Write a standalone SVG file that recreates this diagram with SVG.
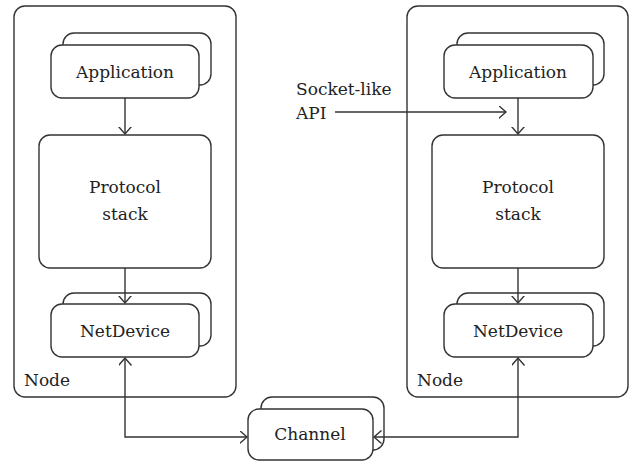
<svg xmlns="http://www.w3.org/2000/svg" width="629" height="462" viewBox="0 0 629 462">
<defs>
<style>
.box{fill:#fff;stroke:#333;stroke-width:1.4}
.outer{fill:none;stroke:#333;stroke-width:1.4}
.ln{fill:none;stroke:#333;stroke-width:1.4}
text{font-family:"DejaVu Serif","Liberation Serif",serif;font-size:17px;fill:#222}
.c{text-anchor:middle}
</style>
<marker id="ah" markerUnits="userSpaceOnUse" markerWidth="10" markerHeight="14" refX="7.5" refY="6.5" orient="auto-start-reverse">
<path d="M0,0 L7.5,6.5 L0,13" fill="none" stroke="#333" stroke-width="1.4"/>
</marker>
</defs>
<rect width="629" height="462" fill="#fff"/>
<g id="node-left">
<rect class="outer" x="14" y="6" width="222" height="391" rx="11"/>
<text x="24" y="386">Node</text>
</g>
<g id="app-left">
<rect class="box" x="63" y="33" width="148" height="52" rx="11"/>
<rect class="box" x="51" y="45" width="148" height="53" rx="11"/>
<text class="c" x="125" y="78">Application</text>
</g>
<g id="proto-left">
<rect class="box" x="39" y="135" width="172" height="133" rx="11"/>
<text class="c" x="125" y="193">Protocol</text>
<text class="c" x="125" y="220">stack</text>
</g>
<g id="net-left">
<rect class="box" x="63" y="293" width="148" height="53" rx="11"/>
<rect class="box" x="51" y="304" width="148" height="53" rx="11"/>
<text class="c" x="125" y="337">NetDevice</text>
</g>
<g id="node-right">
<rect class="outer" x="407" y="6" width="221" height="391" rx="11"/>
<text x="417" y="386">Node</text>
</g>
<g id="app-right">
<rect class="box" x="457" y="33" width="147" height="52" rx="11"/>
<rect class="box" x="444" y="45" width="149" height="53" rx="11"/>
<text class="c" x="518" y="78">Application</text>
</g>
<g id="proto-right">
<rect class="box" x="432" y="135" width="172" height="133" rx="11"/>
<text class="c" x="518" y="193">Protocol</text>
<text class="c" x="518" y="220">stack</text>
</g>
<g id="net-right">
<rect class="box" x="457" y="293" width="147" height="53" rx="11"/>
<rect class="box" x="444" y="304" width="149" height="53" rx="11"/>
<text class="c" x="518" y="337">NetDevice</text>
</g>
<g id="channel">
<rect class="box" x="261" y="397" width="123" height="53" rx="11"/>
<rect class="box" x="248" y="409" width="125" height="51" rx="11"/>
<text class="c" x="310" y="440">Channel</text>
</g>
<g id="api-label">
<text x="296" y="95">Socket-like</text>
<text x="296" y="119">API</text>
</g>
<g id="connectors">
<line class="ln" x1="125" y1="98" x2="125" y2="134" marker-end="url(#ah)"/>
<line class="ln" x1="125" y1="268" x2="125" y2="303" marker-end="url(#ah)"/>
<line class="ln" x1="518" y1="98" x2="518" y2="134" marker-end="url(#ah)"/>
<line class="ln" x1="518" y1="268" x2="518" y2="303" marker-end="url(#ah)"/>
<line class="ln" x1="335" y1="112" x2="506" y2="112" marker-end="url(#ah)"/>
<polyline class="ln" points="125,358 125,437 247,437" marker-start="url(#ah)" marker-end="url(#ah)"/>
<polyline class="ln" points="518,358 518,437 374,437" marker-start="url(#ah)" marker-end="url(#ah)"/>
</g>
</svg>
